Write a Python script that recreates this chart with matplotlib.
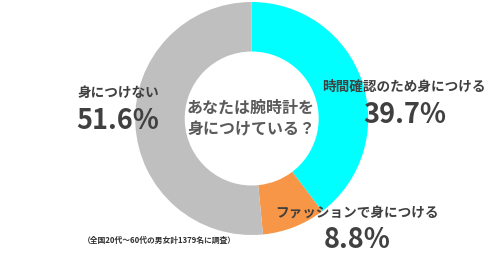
import matplotlib
matplotlib.use("Agg")
import matplotlib.pyplot as plt

plt.rcParams['font.family'] = ['Noto Sans CJK JP', 'DejaVu Sans']

labels = ["時間確認のため身につける", "ファッションで身につける", "身につけない"]
values = [39.7, 8.8, 51.6]
pct_labels = ["39.7%", "8.8%", "51.6%"]
colors = ["#00FFFF", "#F79646", "#BFBFBF"]
question = "あなたは腕時計を\n身につけている？"
note = "（全国20代～60代の男女計1379名に調査）"

W, H = 500, 254
fig = plt.figure(figsize=(W/100, H/100), dpi=100)
cx, cy, r = 251.7, 118.5, 116.5
ax = fig.add_axes([(cx - r)/W, (H - cy - r)/H, 2*r/W, 2*r/H])
ax.pie(values, colors=colors, startangle=90, counterclock=False, radius=1,
       wedgeprops=dict(width=0.425, linewidth=0))
ax.set_xlim(-1, 1)
ax.set_ylim(-1, 1)
ax.set_aspect('auto')
ax.axis('off')

txt = "#404040"
def px(x, y):
    return x/W, 1 - y/H

pos = [((404, 87), (405, 115)), ((357, 213), (357, 240)), ((118, 93), (118, 121))]
for lab, pl, ((lx, ly), (px_, py_)) in zip(labels, pct_labels, pos):
    fig.text(*px(lx, ly), lab, ha='center', va='center', fontsize=9.8,
             fontweight='bold', color=txt)
    fig.text(*px(px_, py_), pl, ha='center', va='center', fontsize=19.5,
             fontweight='bold', color=txt)

fig.text(*px(251, 118.5), question, ha='center', va='center', fontsize=11.5,
         color="#5a5a5a", linespacing=1.45, fontweight='bold')
fig.text(*px(83, 240), note, ha='left', va='center', fontsize=5.6,
         fontweight='bold', color="#303030")

fig.savefig("out.png", dpi=100)
